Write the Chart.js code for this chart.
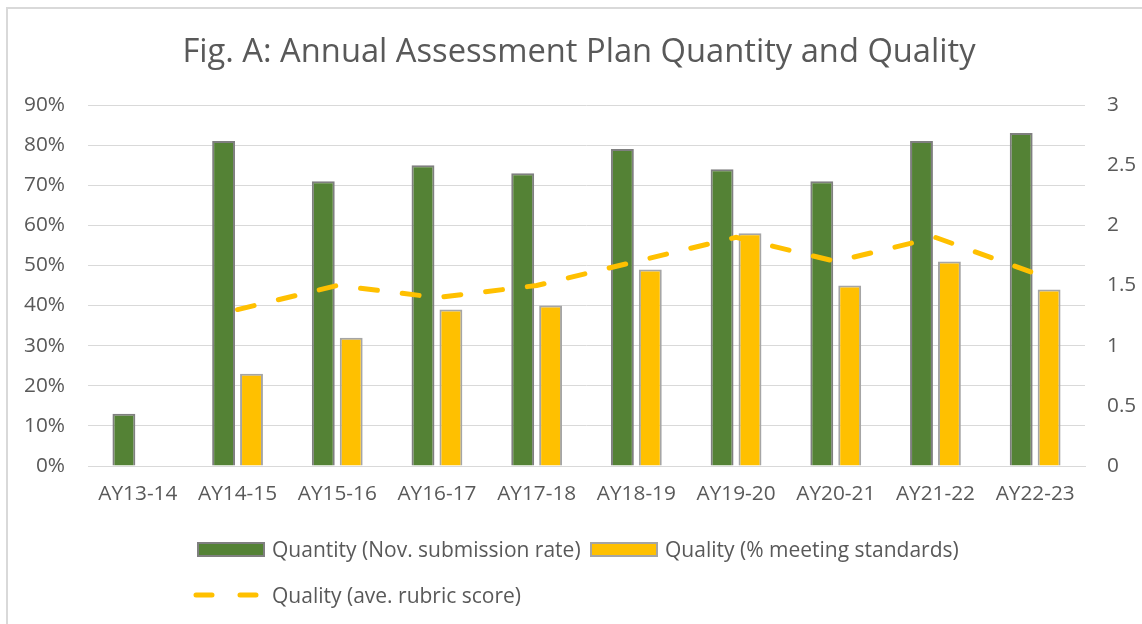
<!DOCTYPE html>
<html>
<head>
<meta charset="utf-8">
<script src="https://cdn.jsdelivr.net/npm/chart.js@4/dist/chart.umd.min.js"></script>
<style>
  html, body { margin: 0; padding: 0; background: #fff; }
  #wrap { position: relative; width: 1142px; height: 624px; overflow: hidden; font-family: 'Open Sans', sans-serif; }
  #frame { position: absolute; left: 6px; top: 7px; width: 1200px; height: 700px; border-left: 2px solid #d9d9d9; border-top: 2px solid #d9d9d9; }
  #chart { position: absolute; left: 0; top: 0; }
  #title { position: absolute; left: 0; top: 27px; width: 1158px; text-align: center; font-size: 32.7px; color: #595959; white-space: nowrap; }
  .leg { position: absolute; display: flex; align-items: center; font-size: 21px; color: #595959; white-space: nowrap; }
  .box { display: inline-block; width: 68px; height: 15px; margin-right: 7px; box-sizing: border-box; }
</style>
</head>
<body>
<div id="wrap">
  <div id="frame"></div>
  <canvas id="chart" width="1142" height="624"></canvas>
  <div id="title"></div>
  <div id="leg1" class="leg" style="left:197px; top:535px;"></div>
  <div id="leg2" class="leg" style="left:590px; top:535px;"></div>
  <div id="leg3" class="leg" style="left:192px; top:581px;"></div>
</div>
<script>
const titleText = "Fig. A: Annual Assessment Plan Quantity and Quality";
const categories = ["AY13-14","AY14-15","AY15-16","AY16-17","AY17-18","AY18-19","AY19-20","AY20-21","AY21-22","AY22-23"];
const quantityPct = [13, 81, 71, 75, 73, 79, 74, 71, 81, 83];
const qualityPct = [null, 23, 32, 39, 40, 49, 58, 45, 51, 44];
const rubricScore = [null, 1.3, 1.5, 1.4, 1.5, 1.7, 1.9, 1.7, 1.9, 1.6];
const seriesNames = ["Quantity (Nov. submission rate)", "Quality (% meeting standards)", "Quality (ave. rubric score)"];
const leftTicks = [0, 10, 20, 30, 40, 50, 60, 70, 80, 90];
const rightTicks = [0, 0.5, 1, 1.5, 2, 2.5, 3];

const GREEN = '#548235', YELLOW = '#FFC000', TXT = '#595959', GRID = '#d9d9d9';

document.getElementById('title').textContent = titleText;

function legendBox(id, fill, border, text) {
  const el = document.getElementById(id);
  const b = document.createElement('span');
  b.className = 'box';
  b.style.background = fill;
  b.style.border = '2px solid ' + border;
  el.appendChild(b);
  el.appendChild(document.createTextNode(text));
}
legendBox('leg1', GREEN, '#7f7f7f', seriesNames[0]);
legendBox('leg2', YELLOW, '#a5a5a5', seriesNames[1]);
(function(){
  const el = document.getElementById('leg3');
  const c = document.createElement('canvas');
  c.width = 72; c.height = 16;
  c.style.marginRight = '8px';
  const g = c.getContext('2d');
  g.strokeStyle = YELLOW; g.lineWidth = 5; g.lineCap = 'round';
  g.beginPath(); g.moveTo(4, 8); g.lineTo(20, 8); g.moveTo(48, 8); g.lineTo(64, 8); g.stroke();
  el.appendChild(c);
  el.appendChild(document.createTextNode(seriesNames[2]));
})();

Chart.defaults.font.family = "'Open Sans', sans-serif";
Chart.defaults.color = TXT;

new Chart(document.getElementById('chart'), {
  data: {
    labels: categories,
    datasets: [
      {
        type: 'line', label: seriesNames[2], data: rubricScore, yAxisID: 'y1', order: 0,
        borderColor: YELLOW, backgroundColor: YELLOW, borderWidth: 5,
        borderDash: [17, 25], borderCapStyle: 'round', pointRadius: 0, tension: 0, spanGaps: false
      },
      {
        type: 'bar', label: seriesNames[0], data: quantityPct, yAxisID: 'y', order: 1,
        backgroundColor: GREEN, borderColor: '#7f7f7f', borderWidth: 2,
        categoryPercentage: 0.56, barPercentage: 0.82
      },
      {
        type: 'bar', label: seriesNames[1], data: qualityPct, yAxisID: 'y', order: 2,
        backgroundColor: YELLOW, borderColor: '#a5a5a5', borderWidth: 2,
        categoryPercentage: 0.56, barPercentage: 0.82
      }
    ]
  },
  options: {
    responsive: false,
    animation: false,
    layout: { padding: { top: 105, bottom: 0, left: 0, right: 0 } },
    plugins: { legend: { display: false }, title: { display: false }, tooltip: { enabled: false } },
    scales: {
      x: {
        grid: { display: false, drawTicks: false },
        border: { display: true, color: GRID, width: 1 },
        ticks: { padding: 16, font: { size: 20.8 }, color: TXT },
        afterFit: s => { s.height = 158; }
      },
      y: {
        position: 'left', min: 0, max: 90,
        afterBuildTicks: s => { s.ticks = leftTicks.map(v => ({ value: v })); },
        grid: { color: GRID, lineWidth: 1, drawTicks: false },
        border: { display: false },
        ticks: { padding: 23, font: { size: 20.8 }, color: TXT, callback: v => v + '%' },
        afterFit: s => { s.width = 88; }
      },
      y1: {
        position: 'right', min: 0, max: 3,
        afterBuildTicks: s => { s.ticks = rightTicks.map(v => ({ value: v })); },
        grid: { display: false, drawTicks: false },
        border: { display: false },
        ticks: { padding: 22, font: { size: 20.8 }, color: TXT, callback: v => String(v) },
        afterFit: s => { s.width = 57; }
      }
    }
  }
});
</script>
</body>
</html>
